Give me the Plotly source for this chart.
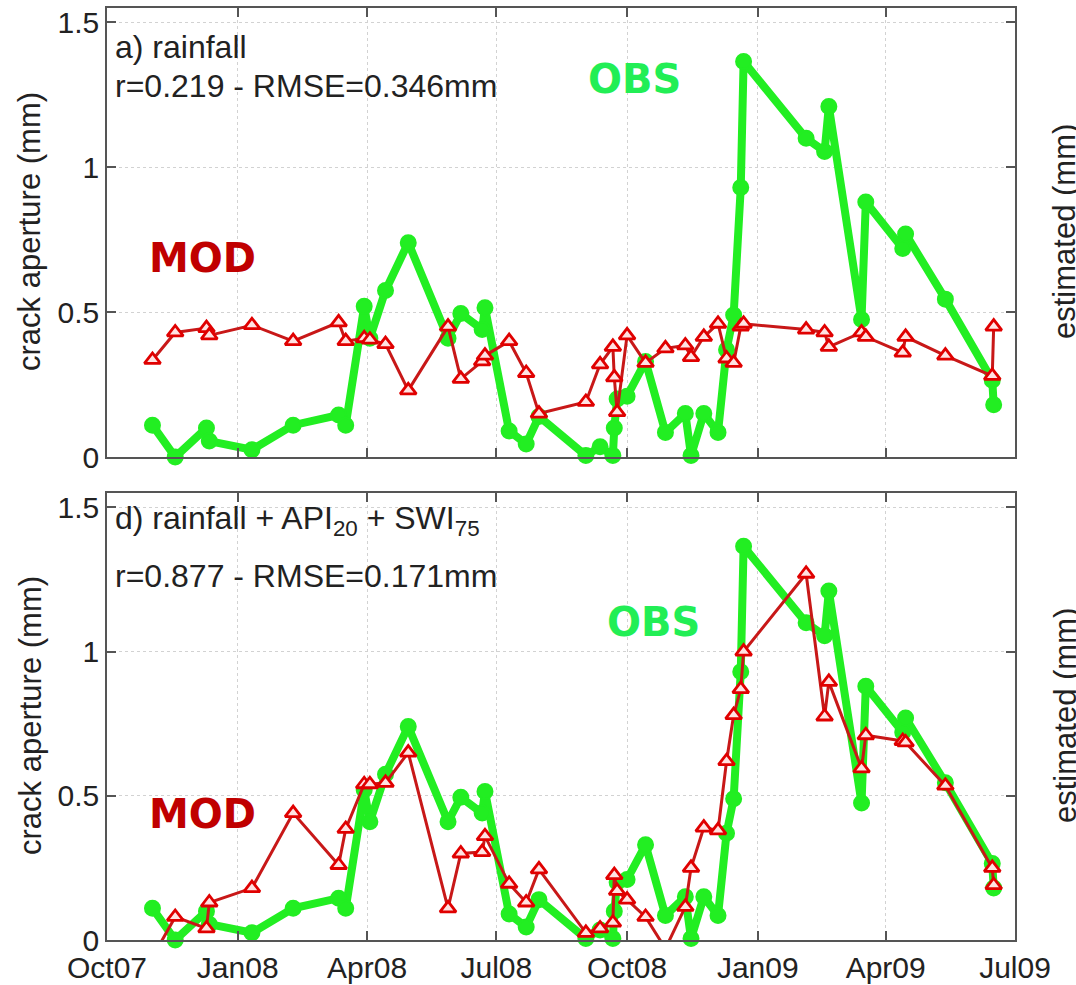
import plotly.graph_objects as go

# Survey dates shared by the observed and modelled crack aperture series
dates = [
    "2007-11-02", "2007-11-18", "2007-12-10", "2007-12-12", "2008-01-11",
    "2008-02-09", "2008-03-12", "2008-03-17", "2008-03-30", "2008-04-03",
    "2008-04-14", "2008-04-30", "2008-05-28", "2008-06-06", "2008-06-21",
    "2008-06-23", "2008-07-10", "2008-07-22", "2008-07-31", "2008-09-02",
    "2008-09-12", "2008-09-21", "2008-09-22", "2008-09-24", "2008-10-01",
    "2008-10-14", "2008-10-28", "2008-11-11", "2008-11-15", "2008-11-24",
    "2008-12-04", "2008-12-10", "2008-12-15", "2008-12-20", "2008-12-22",
    "2009-02-04", "2009-02-17", "2009-02-20", "2009-03-15", "2009-03-18",
    "2009-04-13", "2009-04-15", "2009-05-13", "2009-06-15", "2009-06-16",
]

# Observed crack aperture (mm)
obs = [
    0.11, 0.00, 0.10, 0.055, 0.025,
    0.11, 0.145, 0.11, 0.52, 0.41,
    0.575, 0.74, 0.41, 0.495, 0.44,
    0.515, 0.09, 0.045, 0.14, 0.005,
    0.035, 0.005, 0.10, 0.20, 0.21,
    0.33, 0.085, 0.15, 0.005, 0.15,
    0.085, 0.37, 0.49, 0.93, 1.365,
    1.10, 1.055, 1.21, 0.475, 0.88,
    0.72, 0.77, 0.545, 0.265, 0.18,
]

# Model a) rainfall only
mod_rain = [
    0.335, 0.43, 0.445, 0.42, 0.455,
    0.40, 0.465, 0.40, 0.41, 0.405,
    0.39, 0.23, 0.45, 0.27, 0.33,
    0.35, 0.40, 0.29, 0.15, 0.19,
    0.32, 0.38, 0.275, 0.155, 0.42,
    0.325, 0.375, 0.385, 0.345, 0.415,
    0.46, 0.34, 0.325, 0.45, 0.46,
    0.44, 0.43, 0.38, 0.43, 0.415,
    0.36, 0.415, 0.35, 0.28, 0.45,
]

# Model d) rainfall + API20 + SWI75
mod_combo = [
    -0.06, 0.08, 0.04, 0.13, 0.18,
    0.44, 0.26, 0.385, 0.54, 0.54,
    0.545, 0.65, 0.11, 0.30, 0.305,
    0.36, 0.195, 0.13, 0.245, 0.025,
    0.04, 0.06, 0.225, 0.17, 0.14,
    0.08, -0.03, 0.115, 0.25, 0.39,
    0.38, 0.62, 0.78, 0.87, 1.00,
    1.27, 0.775, 0.895, 0.595, 0.71,
    0.69, 0.685, 0.535, 0.25, 0.19,
]

panel_titles = [
    ("a) rainfall", "r=0.219 - RMSE=0.346mm"),
    ("d) rainfall + API<sub>20</sub> + SWI<sub>75</sub>", "r=0.877 - RMSE=0.171mm"),
]

OBS_LINE = "#22ee22"
OBS_TEXT = "#22ee55"
MOD_LINE = "#c81818"
MOD_EDGE = "#e00000"
MOD_TEXT = "#c00000"

W, H = 1076, 985
L, R, T, B = 107, 61, 8, 45
plot_w = W - L - R
plot_h = H - T - B


def px(xp):
    return (xp - L) / plot_w


def py(yp):
    return (H - B - yp) / plot_h


fig = go.Figure()

panels = [("x2", "y2", mod_rain), ("x", "y", mod_combo)]
for xa, ya, mod in panels:
    fig.add_trace(go.Scatter(
        x=dates, y=obs, xaxis=xa, yaxis=ya, mode="lines+markers",
        line=dict(color=OBS_LINE, width=8),
        marker=dict(symbol="circle", size=15, color=OBS_LINE,
                    line=dict(color=OBS_LINE, width=2)),
        cliponaxis=False, showlegend=False, name="OBS",
    ))
    fig.add_trace(go.Scatter(
        x=dates, y=mod, xaxis=xa, yaxis=ya, mode="lines+markers",
        line=dict(color=MOD_LINE, width=3),
        marker=dict(symbol="triangle-up", size=14, color="#ffe2e2",
                    line=dict(color=MOD_EDGE, width=2.8)),
        cliponaxis=True, showlegend=False, name="MOD",
    ))

tick_font = dict(family="Liberation Sans, Arial, sans-serif", size=30, color="#222222")

x_common = dict(
    type="date", range=["2007-10-01", "2009-07-01"],
    tick0="2007-10-01", dtick="M3", tickformat="%b%y",
    showgrid=True, gridcolor="#d2d2d2", griddash="dot", gridwidth=1,
    showline=True, linecolor="#555555", linewidth=1.5, mirror="ticks",
    ticks="inside", ticklen=9, tickwidth=1.5, tickcolor="#555555",
    zeroline=False, tickfont=tick_font, automargin=False,
)
y_common = dict(
    range=[0, 1.55], tickvals=[0, 0.5, 1, 1.5], ticktext=["0", "0.5", "1", "1.5"],
    showgrid=True, gridcolor="#d2d2d2", griddash="dot", gridwidth=1,
    showline=True, linecolor="#555555", linewidth=1.5, mirror="ticks",
    ticks="inside", ticklen=9, tickwidth=1.5, tickcolor="#555555",
    zeroline=False, tickfont=tick_font, automargin=False,
)

top_lo = py(457)
bot_hi = py(493)

fig.update_layout(
    width=W, height=H,
    margin=dict(l=L, r=R, t=T, b=B),
    paper_bgcolor="white", plot_bgcolor="white",
    template="none",
    xaxis=dict(x_common, anchor="y", domain=[0, 1]),
    yaxis=dict(y_common, anchor="x", domain=[0, bot_hi]),
    xaxis2=dict(x_common, anchor="y2", domain=[0, 1], showticklabels=False, matches="x"),
    yaxis2=dict(y_common, anchor="x2", domain=[top_lo, 1]),
)

label_font = dict(family="Liberation Sans, Arial, sans-serif", size=31, color="#222222")
note_font = dict(family="Liberation Sans, Arial, sans-serif", size=32, color="#222222")
big_font = lambda c: dict(family="DejaVu Sans, Verdana, sans-serif", size=40, color=c)

annotations = []
# per panel: (centre y of panel, first text line y, second line y, MOD pos, OBS pos)
layout_rows = [
    (232, 47, 86, (202, 258), (634, 79)),
    (716, 520, 576, (202, 814), (653, 622)),
]
for (line1, line2), (yc, y1, y2, mod_pos, obs_pos) in zip(panel_titles, layout_rows):
    annotations += [
        dict(text="crack aperture (mm)", x=px(30), y=py(yc), textangle=-90, font=label_font),
        dict(text="estimated (mm)", x=px(1065), y=py(yc), textangle=-90, font=label_font),
        dict(text=line1, x=px(113), y=py(y1), xanchor="left", font=note_font),
        dict(text=line2, x=px(113), y=py(y2), xanchor="left", font=note_font),
        dict(text="<b>MOD</b>", x=px(mod_pos[0]), y=py(mod_pos[1]), font=big_font(MOD_TEXT)),
        dict(text="<b>OBS</b>", x=px(obs_pos[0]), y=py(obs_pos[1]), font=big_font(OBS_TEXT)),
    ]
for a in annotations:
    a.update(xref="paper", yref="paper", showarrow=False)
    a.setdefault("xanchor", "center")
    a.setdefault("yanchor", "middle")
fig.update_layout(annotations=annotations)

fig.write_html("out.html")
